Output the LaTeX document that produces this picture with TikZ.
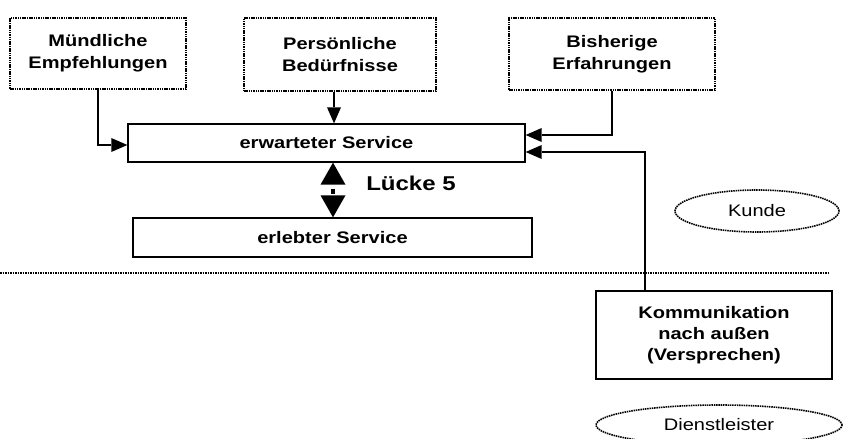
\documentclass[tikz,border=0pt]{standalone}
\usepackage{fontspec}
\setmainfont{Liberation Sans}[FakeStretch=1.2]
\usetikzlibrary{arrows.meta, shapes.geometric}

\begin{document}
\begin{tikzpicture}[x=1pt, y=-1pt]
  % --- Styles ---
  \tikzset{
    factor box/.style={draw, dash pattern=on 1.5pt off 0.8pt, line width=1.4pt, align=center, inner sep=0pt,
      font=\fontsize{16.7}{22}\selectfont\bfseries},
    service box/.style={draw, line width=1.3pt, align=center, inner sep=0pt,
      font=\fontsize{16.7}{21}\selectfont\bfseries},
    side label/.style={ellipse, draw, dash pattern=on 1.5pt off 0.8pt, line width=1.6pt, inner sep=0pt,
      font=\fontsize{16.7}{20}\selectfont},
    feed arrow/.style={line width=1.8pt, -{Triangle[length=16pt, width=14pt, line width=0pt]}},
    gap arrow/.style={line width=4pt, dash pattern=on 0pt off 4pt on 5pt off 20pt,
      {Triangle[length=22pt, width=25pt, line width=0pt]}-{Triangle[length=22pt, width=25pt, line width=0pt]}}
  }

  \useasboundingbox (0,0) rectangle (844,439);
  \clip (0,0) rectangle (844,439);

  % --- Influencing factors (top row) ---
  \node[factor box, minimum width=176pt, minimum height=71pt] (mund) at (98,53.5) {Mündliche\\Empfehlungen};
  \node[factor box, minimum width=192pt, minimum height=73pt] (pers) at (340,54.5) {Persönliche\\Bedürfnisse};
  \node[factor box, minimum width=206pt, minimum height=72pt] (bish) at (612,54) {Bisherige\\Erfahrungen};

  % --- Expected and perceived service ---
  \node[service box, minimum width=397pt, minimum height=38pt] (erw) at (326.5,143) {erwarteter Service};
  \node[service box, minimum width=399pt, minimum height=39pt] (erl) at (332.5,237.5) {erlebter Service};

  % --- Provider side ---
  \node[service box, minimum width=236pt, minimum height=88pt] (kom) at (714,335)
    {Kommunikation\\nach außen\\(Versprechen)};

  % --- Customer / provider labels ---
  \node[side label, minimum width=164pt, minimum height=42pt] (kunde) at (757,211) {Kunde};
  \node[side label, minimum width=246pt, minimum height=40pt] (dienst) at (719,425) {Dienstleister};

  % --- Dividing line ---
  \coordinate (sep left) at (0,273);
  \coordinate (sep right) at (830,273);
  \draw[dash pattern=on 1.5pt off 1pt, line width=1.6pt] (sep left) -- (sep right);

  % --- Connectors ---
  \draw[feed arrow] (mund.south) |- ([yshift=-2pt]erw.west);
  \draw[feed arrow] ([xshift=-6pt]pers.south) -- ([xshift=-6pt]pers.south |- erw.north);
  \draw[feed arrow] (bish.south) |- ([yshift=8pt]erw.east);
  \draw[feed arrow] ([xshift=-69pt]kom.north) |- ([yshift=-9pt]erw.east);

  % --- Gap 5 ---
  \draw[gap arrow] (erw.south -| 333,0) -- (erl.north -| 333,0);
  \node[font=\fontsize{20}{24}\selectfont\bfseries, inner sep=0pt] (luecke) at (411,183) {Lücke 5};

\end{tikzpicture}
\end{document}
